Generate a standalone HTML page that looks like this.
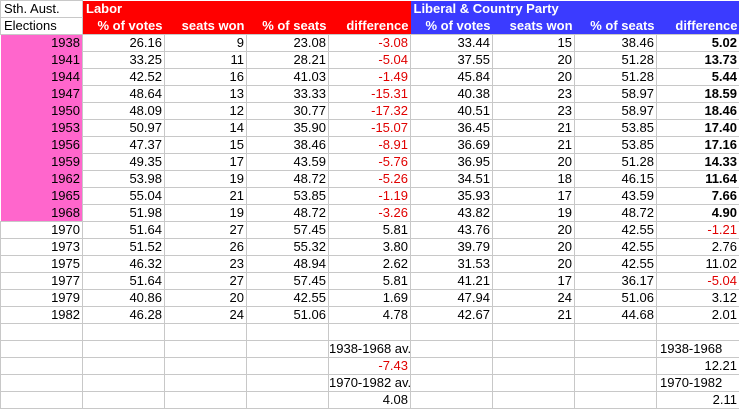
<!DOCTYPE html>
<html><head><style>
body{margin:0;width:739px;height:409px;overflow:hidden;background:#fff;font-family:"Liberation Sans",Arial,sans-serif;font-size:13px;}
table{border-collapse:collapse;table-layout:fixed;position:absolute;left:0;top:0;width:739px;}
col{width:82px;}
td{height:17px;padding:0 2px 0 0;border:1px solid #c8c8c8;text-align:right;white-space:nowrap;overflow:visible;line-height:16px;box-sizing:border-box;}
tr{height:17px;}
.r{color:#e00000;}
.b{font-weight:bold;}
.p{background:#ff66cc;border-top:none;border-bottom:none;border-left:none;}
.L{background:#ff0000;color:#fff;font-weight:bold;border:none;}
.B{background:#3b3bff;color:#fff;font-weight:bold;border:none;}
.l{text-align:left;padding-left:3px;}
</style></head><body>
<table>
<colgroup><col><col><col><col><col><col><col><col><col style="width:83px"></colgroup>
<tr><td class="l">Sth. Aust.</td><td class="L l">Labor</td><td class="L"></td><td class="L"></td><td class="L"></td><td class="B l" colspan="2">Liberal &amp; Country Party</td><td class="B"></td><td class="B"></td></tr>
<tr><td class="l">Elections</td><td class="L">% of votes</td><td class="L">seats won</td><td class="L">% of seats</td><td class="L">difference</td><td class="B">% of votes</td><td class="B">seats won</td><td class="B">% of seats</td><td class="B">difference</td></tr>
<tr><td class="p">1938</td><td>26.16</td><td>9</td><td>23.08</td><td class="r">-3.08</td><td>33.44</td><td>15</td><td>38.46</td><td class="b">5.02</td></tr>
<tr><td class="p">1941</td><td>33.25</td><td>11</td><td>28.21</td><td class="r">-5.04</td><td>37.55</td><td>20</td><td>51.28</td><td class="b">13.73</td></tr>
<tr><td class="p">1944</td><td>42.52</td><td>16</td><td>41.03</td><td class="r">-1.49</td><td>45.84</td><td>20</td><td>51.28</td><td class="b">5.44</td></tr>
<tr><td class="p">1947</td><td>48.64</td><td>13</td><td>33.33</td><td class="r">-15.31</td><td>40.38</td><td>23</td><td>58.97</td><td class="b">18.59</td></tr>
<tr><td class="p">1950</td><td>48.09</td><td>12</td><td>30.77</td><td class="r">-17.32</td><td>40.51</td><td>23</td><td>58.97</td><td class="b">18.46</td></tr>
<tr><td class="p">1953</td><td>50.97</td><td>14</td><td>35.90</td><td class="r">-15.07</td><td>36.45</td><td>21</td><td>53.85</td><td class="b">17.40</td></tr>
<tr><td class="p">1956</td><td>47.37</td><td>15</td><td>38.46</td><td class="r">-8.91</td><td>36.69</td><td>21</td><td>53.85</td><td class="b">17.16</td></tr>
<tr><td class="p">1959</td><td>49.35</td><td>17</td><td>43.59</td><td class="r">-5.76</td><td>36.95</td><td>20</td><td>51.28</td><td class="b">14.33</td></tr>
<tr><td class="p">1962</td><td>53.98</td><td>19</td><td>48.72</td><td class="r">-5.26</td><td>34.51</td><td>18</td><td>46.15</td><td class="b">11.64</td></tr>
<tr><td class="p">1965</td><td>55.04</td><td>21</td><td>53.85</td><td class="r">-1.19</td><td>35.93</td><td>17</td><td>43.59</td><td class="b">7.66</td></tr>
<tr><td class="p">1968</td><td>51.98</td><td>19</td><td>48.72</td><td class="r">-3.26</td><td>43.82</td><td>19</td><td>48.72</td><td class="b">4.90</td></tr>
<tr><td>1970</td><td>51.64</td><td>27</td><td>57.45</td><td>5.81</td><td>43.76</td><td>20</td><td>42.55</td><td class="r">-1.21</td></tr>
<tr><td>1973</td><td>51.52</td><td>26</td><td>55.32</td><td>3.80</td><td>39.79</td><td>20</td><td>42.55</td><td>2.76</td></tr>
<tr><td>1975</td><td>46.32</td><td>23</td><td>48.94</td><td>2.62</td><td>31.53</td><td>20</td><td>42.55</td><td>11.02</td></tr>
<tr><td>1977</td><td>51.64</td><td>27</td><td>57.45</td><td>5.81</td><td>41.21</td><td>17</td><td>36.17</td><td class="r">-5.04</td></tr>
<tr><td>1979</td><td>40.86</td><td>20</td><td>42.55</td><td>1.69</td><td>47.94</td><td>24</td><td>51.06</td><td>3.12</td></tr>
<tr><td>1982</td><td>46.28</td><td>24</td><td>51.06</td><td>4.78</td><td>42.67</td><td>21</td><td>44.68</td><td>2.01</td></tr>
<tr><td></td><td></td><td></td><td></td><td></td><td></td><td></td><td></td><td></td></tr>
<tr><td></td><td></td><td></td><td></td><td>1938-1968 av.</td><td></td><td></td><td></td><td class="l">1938-1968</td></tr>
<tr><td></td><td></td><td></td><td></td><td class="r">-7.43</td><td></td><td></td><td></td><td>12.21</td></tr>
<tr><td></td><td></td><td></td><td></td><td>1970-1982 av.</td><td></td><td></td><td></td><td class="l">1970-1982</td></tr>
<tr><td></td><td></td><td></td><td></td><td>4.08</td><td></td><td></td><td></td><td>2.11</td></tr>
</table>
</body></html>
